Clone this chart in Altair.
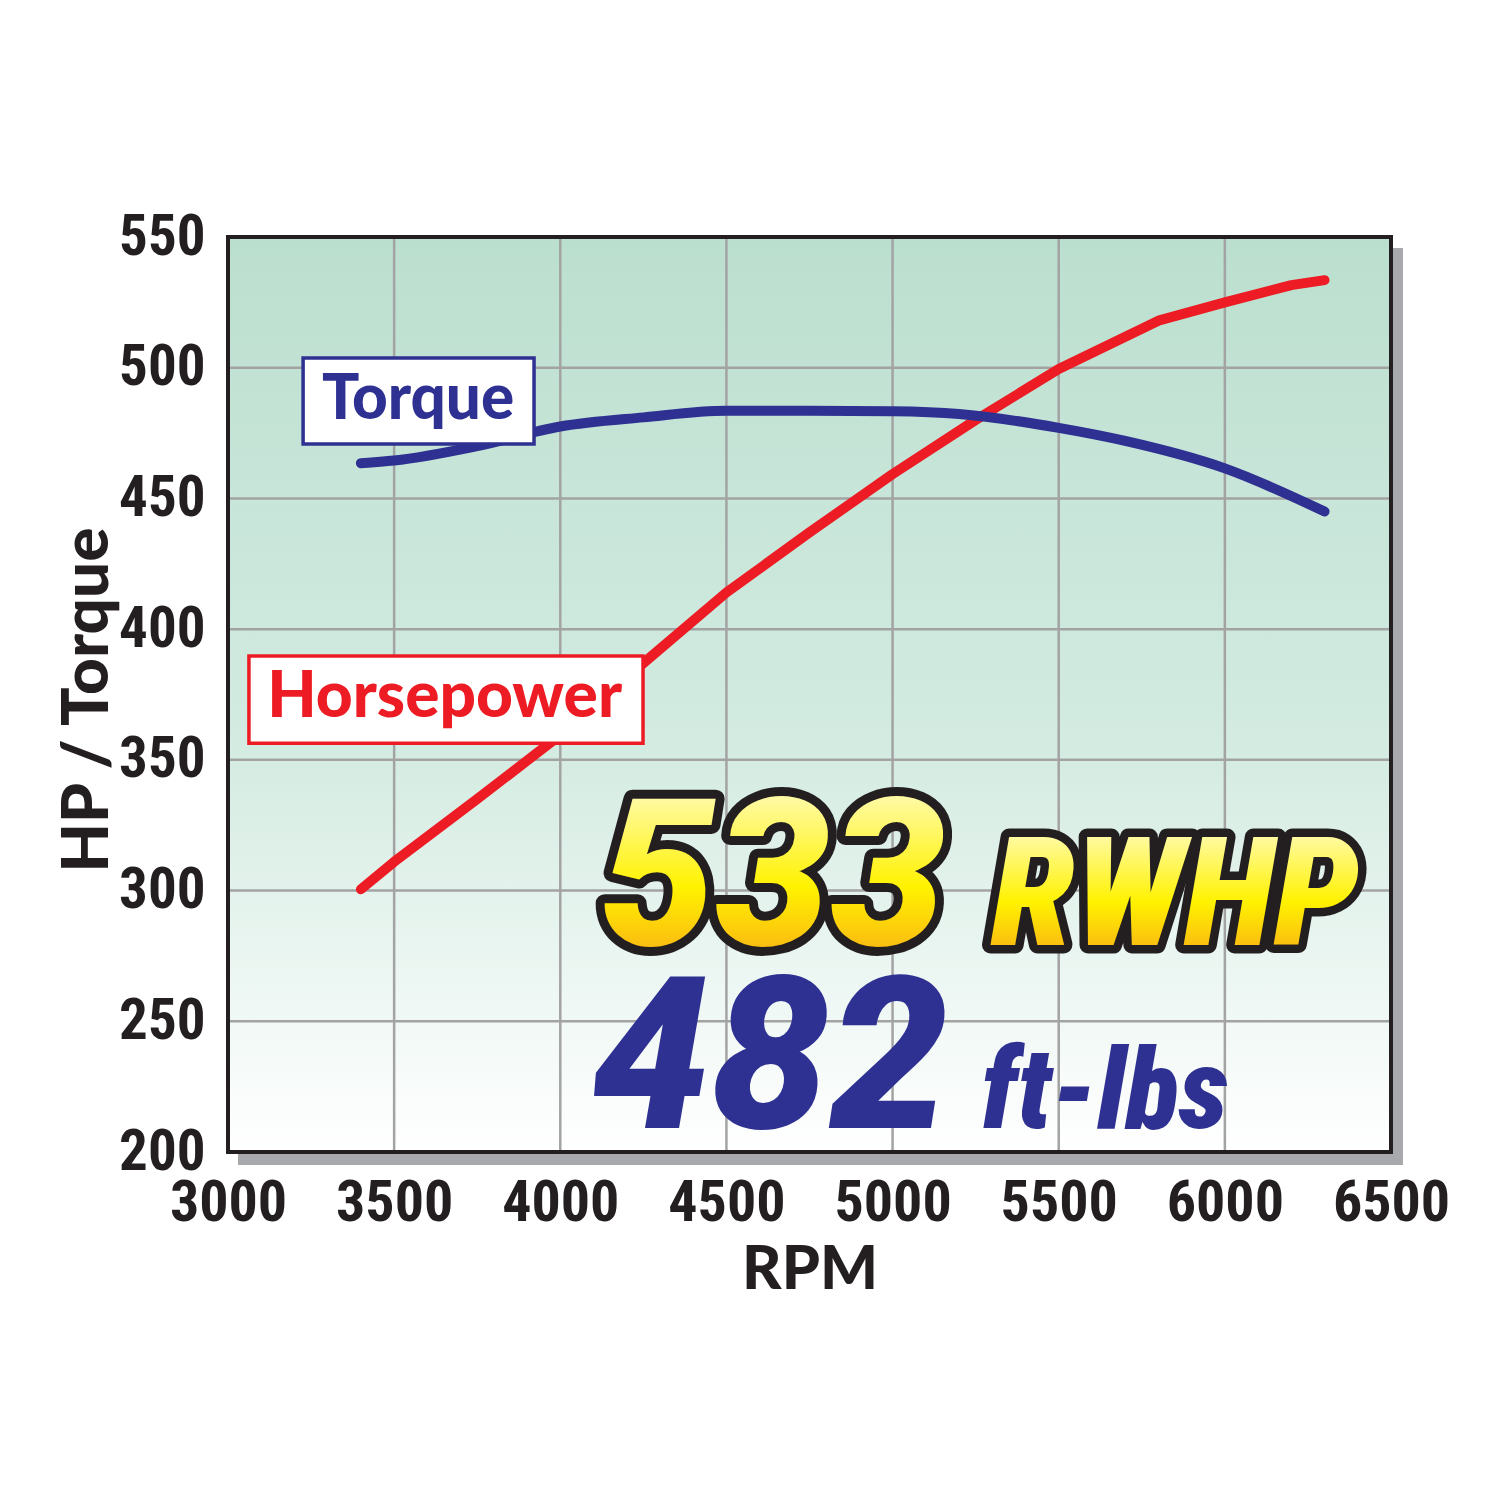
import altair as alt
import pandas as pd

# ---- data ----
rpm_hp = [3400, 3500, 3750, 4000, 4250, 4500, 4750, 5000, 5250, 5500, 5800, 6000, 6200, 6300]
hp_vals = [300.5, 311, 335, 359.5, 387, 414, 437, 459.3, 480, 499.5, 518, 525, 531.6, 533.5]
rpm_tq = [3400, 3500, 3750, 4000, 4250, 4500, 4750, 5000, 5200, 5500, 5700, 6000, 6300]
tq_vals = [463.5, 464.5, 470, 477.5, 481, 483.5, 483.5, 483.3, 482.3, 477, 472, 461.5, 445]

x_ticks = [3000, 3500, 4000, 4500, 5000, 5500, 6000, 6500]
y_ticks = [200, 250, 300, 350, 400, 450, 500, 550]
x_grid = [3500, 4000, 4500, 5000, 5500, 6000]
y_grid = [250, 300, 350, 400, 450, 500]

# label boxes (data units)
box_names = ["Torque", "Horsepower"]
box_x1 = [3226, 3063]
box_x2 = [3921, 4249]
box_y1 = [470.8, 356.4]
box_y2 = [503.7, 389.7]
box_tx = [3572, 3652]
box_ty = [487.6, 373.5]
box_colors = ["#2e3192", "#ed1c24"]
box_sizes = [62, 64]

W, H = 1163, 915
RED = "#ed1c24"
BLUE = "#2e3192"
TICKFONT = "'Roboto Condensed', 'Noto Sans Condensed', Roboto"
COND = "'Roboto Condensed', 'DejaVu Sans Condensed'"

xs = alt.Scale(domain=[3000, 6500], nice=False, zero=False)
ys = alt.Scale(domain=[200, 550], nice=False, zero=False)

x_axis = alt.Axis(values=x_ticks, format="d", domain=False, ticks=False, grid=False,
                  labelFont=TICKFONT, labelFontSize=58, labelFontWeight="bold",
                  labelColor="#231f20", labelPadding=22, labelFlush=False, labelOverlap=False,
                  labelBound=False,
                  title="RPM", titleFont="Lato", titleFontSize=61, titleFontWeight=900,
                  titleColor="#231f20", titleX=W / 2, titleY=118, titleBaseline="middle",
                  titleAlign="center")
y_axis = alt.Axis(values=y_ticks, format="d", domain=False, ticks=False, grid=False,
                  labelFont=TICKFONT, labelFontSize=57, labelFontWeight="bold",
                  labelColor="#231f20", labelPadding=23, labelOverlap=False, labelBound=False,
                  title="HP / Torque", titleFont="Lato", titleFontSize=64, titleFontWeight=900,
                  titleColor="#231f20", titleX=-140, titleY=H / 2 + 5, titleAngle=270,
                  titleBaseline="middle", titleAlign="center")


def X(field):
    return alt.X(field, scale=xs, axis=x_axis, title="RPM")


def Y(field):
    return alt.Y(field, scale=ys, axis=y_axis, title="HP / Torque")


hp_df = pd.DataFrame({"rpm": rpm_hp, "v": hp_vals})
tq_df = pd.DataFrame({"rpm": rpm_tq, "v": tq_vals})
box_df = pd.DataFrame({"name": box_names, "x1": box_x1, "x2": box_x2,
                       "y1": box_y1, "y2": box_y2, "tx": box_tx, "ty": box_ty,
                       "c": box_colors, "s": box_sizes})
xg_df = pd.DataFrame({"x": x_grid})
yg_df = pd.DataFrame({"y": y_grid})

dummy = pd.DataFrame({"a": [0]})

shadow = alt.Chart(dummy).mark_rect(color="#a7a9ac").encode(
    x=alt.value(10), x2=alt.value(W + 12), y=alt.value(11), y2=alt.value(H + 13))

bg_grad = alt.LinearGradient(
    gradient="linear",
    stops=[alt.GradientStop(color="#bbdfcf", offset=0),
           alt.GradientStop(color="#d3ebe1", offset=0.55),
           alt.GradientStop(color="#ffffff", offset=1)],
    x1=0, x2=0, y1=0, y2=1)
bg = alt.Chart(dummy).mark_rect(fill=bg_grad).encode(
    x=alt.value(0), x2=alt.value(W), y=alt.value(0), y2=alt.value(H))

xgrid = alt.Chart(xg_df).mark_rule(color="#a3a3a3", strokeWidth=2.5).encode(x=X("x:Q"))
ygrid = alt.Chart(yg_df).mark_rule(color="#a3a3a3", strokeWidth=2.5).encode(y=Y("y:Q"))

border = alt.Chart(dummy).mark_rect(fillOpacity=0, stroke="#231f20", strokeWidth=4).encode(
    x=alt.value(0), x2=alt.value(W), y=alt.value(0), y2=alt.value(H))

hp_line = alt.Chart(hp_df).mark_line(color=RED, strokeWidth=10, strokeCap="round",
                                     strokeJoin="round").encode(x=X("rpm:Q"), y=Y("v:Q"))
tq_line = alt.Chart(tq_df).mark_line(color=BLUE, strokeWidth=10, strokeCap="round",
                                     strokeJoin="round", interpolate="monotone").encode(
    x=X("rpm:Q"), y=Y("v:Q"))

boxes = alt.Chart(box_df).mark_rect(fill="white", strokeWidth=3.5).encode(
    x=X("x1:Q"), x2="x2:Q", y=Y("y1:Q"), y2="y2:Q",
    stroke=alt.Color("c:N", scale=None))
box_text = alt.Chart(box_df).mark_text(font="Lato", fontWeight=900,
                                       align="center", baseline="middle").encode(
    x=X("tx:Q"), y=Y("ty:Q"), text="name:N",
    size=alt.Size("s:Q", scale=None),
    color=alt.Color("c:N", scale=None))

# ---- big annotation text ----
big_labels = ["533", "RWHP", "482", "ft-lbs"]
big_x = [4640, 5850, 4631, 5639]
big_y = [279.2, 279.2, 209.2, 209.2]

hp_big_df = pd.DataFrame({"t": big_labels[:1], "x": big_x[:1], "y": big_y[:1]})
rw_df = pd.DataFrame({"t": big_labels[1:2], "x": big_x[1:2], "y": big_y[1:2]})
tq_big_df = pd.DataFrame({"t": big_labels[2:3], "x": big_x[2:3], "y": big_y[2:3]})
ft_df = pd.DataFrame({"t": big_labels[3:4], "x": big_x[3:4], "y": big_y[3:4]})

yellow = alt.LinearGradient(
    gradient="linear",
    stops=[alt.GradientStop(color="#fffef0", offset=0),
           alt.GradientStop(color="#fff200", offset=0.55),
           alt.GradientStop(color="#f7941d", offset=1)],
    x1=0, x2=0, y1=0, y2=1)


def txt(df, font, size, style, **kw):
    return alt.Chart(df).mark_text(font=font, fontSize=size, fontWeight=900, fontStyle=style,
                                   align="center", baseline="alphabetic", **kw).encode(
        x=X("x:Q"), y=Y("y:Q"), text="t:N")


n533_out = txt(hp_big_df, "Roboto", 205, "italic", fill="#231f20", stroke="#231f20",
               strokeWidth=18, strokeJoin="round")
n533 = txt(hp_big_df, "Roboto", 205, "italic", fill=yellow)
rw_out = txt(rw_df, COND, 152, "italic", fill="#231f20", stroke="#231f20",
             strokeWidth=17, strokeJoin="round")
rw = txt(rw_df, COND, 152, "italic", fill=yellow)
n482 = txt(tq_big_df, "Roboto", 212, "italic", fill=BLUE)
ft = txt(ft_df, COND, 112, "italic", fill=BLUE)

chart = alt.layer(
    shadow, bg, xgrid, ygrid, border, hp_line, tq_line, boxes, box_text,
    n533_out, rw_out, n533, rw, n482, ft
).properties(
    width=W, height=H,
    autosize=alt.AutoSizeParams(type="none"),
    padding={"left": 220, "top": 229, "right": 101, "bottom": 200},
    background="white"
).configure_view(stroke=None)

chart.save("out.html", embed_options={"renderer": "svg", "actions": False})
